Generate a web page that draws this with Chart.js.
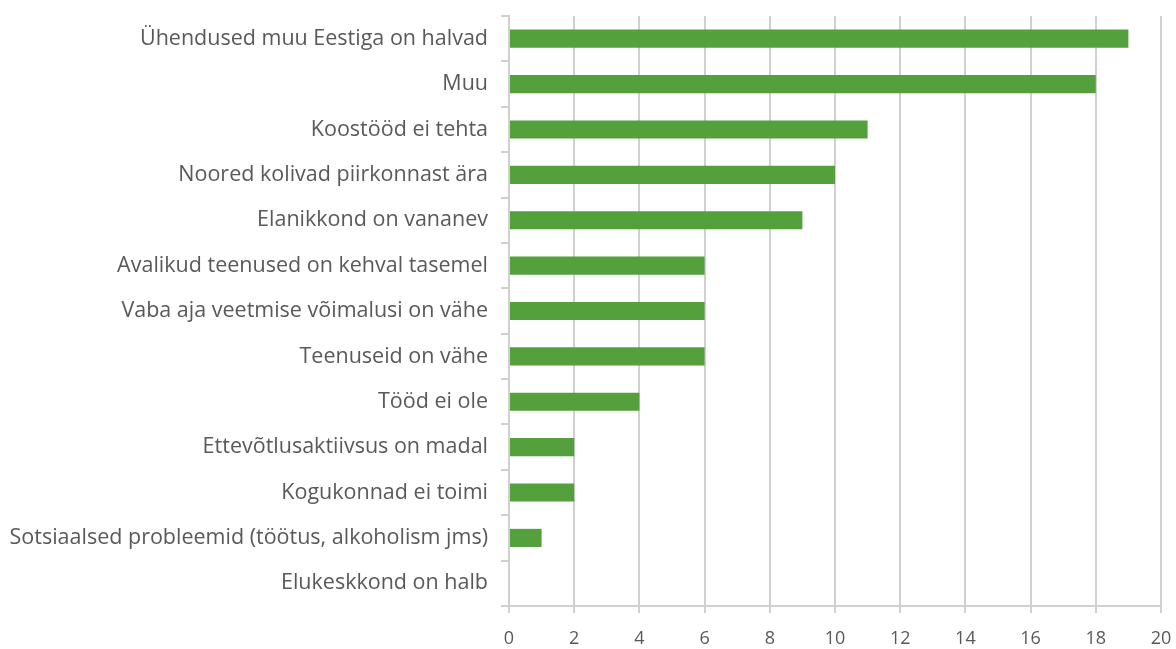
<!DOCTYPE html>
<html>
<head>
<meta charset="utf-8">
<script src="https://cdn.jsdelivr.net/npm/chart.js@4"></script>
<style>
  html, body { margin: 0; padding: 0; background: #fff; }
  #wrap { width: 1176px; height: 649px; }
</style>
</head>
<body>
<div id="wrap"><canvas id="myChart"></canvas></div>
<script>
const categories = [
  "Ühendused muu Eestiga on halvad",
  "Muu",
  "Koostööd ei tehta",
  "Noored kolivad piirkonnast ära",
  "Elanikkond on vananev",
  "Avalikud teenused on kehval tasemel",
  "Vaba aja veetmise võimalusi on vähe",
  "Teenuseid on vähe",
  "Tööd ei ole",
  "Ettevõtlusaktiivsus on madal",
  "Kogukonnad ei toimi",
  "Sotsiaalsed probleemid (töötus, alkoholism jms)",
  "Elukeskkond on halb"
];
const values = [19, 18, 11, 10, 9, 6, 6, 6, 4, 2, 2, 1, 0];
const xTicks = [0, 2, 4, 6, 8, 10, 12, 14, 16, 18, 20];

const gridColor = '#d0d0d0';
const textColor = '#595959';
const fontFamily = "'Open Sans', sans-serif";

new Chart("myChart", {
  type: "bar",
  data: {
    labels: categories,
    datasets: [{
      data: values,
      backgroundColor: '#54a03c',
      borderWidth: 0,
      categoryPercentage: 1,
      barPercentage: 0.4
    }]
  },
  options: {
    indexAxis: 'y',
    responsive: true,
    maintainAspectRatio: false,
    animation: false,
    layout: { padding: { top: 16, right: 15, left: 0, bottom: 0 } },
    plugins: { legend: { display: false }, tooltip: { enabled: false } },
    scales: {
      x: {
        min: 0,
        max: 20,
        afterBuildTicks: (scale) => { scale.ticks = xTicks.map(v => ({ value: v })) },
        afterFit: (scale) => {
          scale.height = 43;
          scale.paddingLeft = 0;
          scale.paddingRight = 0;
        },
        grid: { color: gridColor, lineWidth: 2, tickLength: 7, drawTicks: true },
        border: { color: gridColor, width: 2 },
        ticks: { color: textColor, font: { family: fontFamily, size: 18 }, padding: 15, maxRotation: 0 }
      },
      y: {
        afterFit: (scale) => {
          scale.width = 509;
          scale.paddingTop = 0;
          scale.paddingBottom = 0;
        },
        grid: { color: gridColor, lineWidth: 2, drawOnChartArea: false, tickLength: 8, offset: true },
        border: { color: gridColor, width: 2 },
        ticks: { color: textColor, font: { family: fontFamily, size: 21.5 }, padding: 13, autoSkip: false }
      }
    }
  }
});
</script>
</body>
</html>
